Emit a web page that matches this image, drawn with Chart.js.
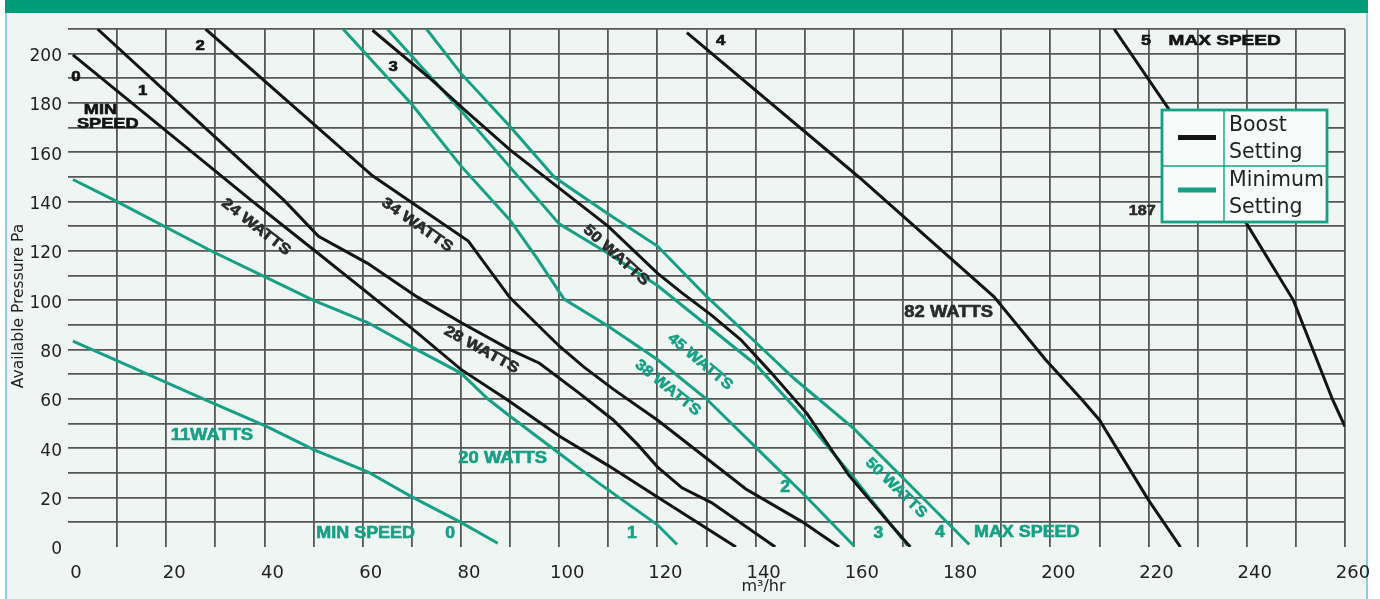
<!DOCTYPE html>
<html lang="en">
<head>
    <meta charset="UTF-8">
    <title>Fan Performance</title>
    <script src="https://cdn.jsdelivr.net/npm/chart.js"></script>
    <style>
        html, body { margin: 0; padding: 0; background: #ffffff; }
        .band { position: absolute; left: 5px; top: 0; width: 1363px; height: 13px; background: #009c78; }
        .frame { position: absolute; left: 5px; top: 13px; width: 1363px; height: 586px; background: #eef5f3;
                 border-left: 2px solid #86cfe4; border-right: 2px solid #86cfe4; box-sizing: border-box; }
        .wrap { position: absolute; left: 0; top: 0; width: 1380px; height: 599px; }
    </style>
</head>
<body>
    <div class="band"></div>
    <div class="frame"></div>
    <div class="wrap"><canvas id="fanChart" width="1380" height="599"></canvas></div>
    <script>
        // tick labels
        const flowTickLabels = [0, 20, 40, 60, 80, 100, 120, 140, 160, 180, 200, 220, 240, 260];
        const paTickLabels = [0, 20, 40, 60, 80, 100, 120, 140, 160, 180, 200];

        // boost setting curves (m3/hr -> Pa), speed 0..5
        const boostFlow0 = [1, 37, 50, 61, 71, 80, 89.5, 100, 110, 120, 136];
        const boostPa0   = [199.5, 141, 120.5, 103, 87, 72, 59.6, 45, 33, 20.3, 0];
        const boostFlow1 = [6, 44, 51, 61, 71, 80, 90, 96, 104, 111, 116, 120, 125, 131, 144];
        const boostPa1   = [210, 140.5, 126, 115, 101.5, 91, 80, 74.5, 62.5, 51.5, 41.5, 32.5, 24, 18, 0];
        const boostFlow2 = [28, 62, 81.5, 90, 100, 105, 111, 120, 130, 138, 149.5, 157];
        const boostPa2   = [210, 150.5, 124, 101, 81.5, 73, 64, 51.5, 36, 23.5, 10.2, 0];
        const boostFlow3 = [62, 74, 80, 90, 100, 110, 120, 125, 131, 137, 143, 150.5, 159, 167, 171.5];
        const boostPa3   = [209.5, 189.5, 178.5, 161, 145.5, 130, 111, 103, 94, 84, 71, 54, 29, 10.2, 0];
        const boostFlow4 = [126, 161, 188.5, 199, 206.5, 210, 220, 226.5];
        const boostPa4   = [208.5, 150, 101.5, 76, 59.6, 51.5, 19, 0];
        const boostFlow5 = [213, 224.3, 240, 249.5, 257.5, 260];
        const boostPa5   = [210, 177, 131, 100, 59.6, 48.8];

        // minimum setting curves
        const minFlow0 = [1, 28, 40.5, 50, 61, 70, 80, 87.5];
        const minPa0   = [83.5, 59.6, 48.8, 39.5, 30.5, 20.3, 10, 1.5];
        const minFlow1 = [1, 9, 29.5, 40, 50, 61, 71, 80, 85.5, 90, 100, 108, 120, 124];
        const minPa1   = [149, 141, 119.7, 109.6, 100, 91, 80, 70.5, 60, 53, 38, 26, 9, 1];
        const minFlow2 = [56, 70, 80, 90, 95.5, 101, 110, 120, 130, 140, 150, 160];
        const minPa2   = [210, 179.5, 154.5, 132.5, 117, 100.5, 89.5, 76, 60, 40.5, 21, 0.5];
        const minFlow3 = [65, 80, 90, 100, 110, 120, 130, 140, 150, 160, 171];
        const minPa3   = [210, 177, 154, 131, 119, 106, 90, 74, 52, 28, 0.5];
        const minFlow4 = [73, 80, 90, 99, 110, 120, 130, 140, 148, 160, 170, 183.5];
        const minPa4   = [210, 192, 170.5, 150, 135, 122, 101.6, 83, 68, 48, 28, 1];

        const BLACK = '#141414';
        const TEAL = '#17a084';

        function toPoints(xs, ys) {
            return xs.map((v, i) => ({ x: v, y: ys[i] }));
        }

        const boostCurves = [
            [boostFlow0, boostPa0], [boostFlow1, boostPa1], [boostFlow2, boostPa2],
            [boostFlow3, boostPa3], [boostFlow4, boostPa4], [boostFlow5, boostPa5]
        ];
        const minCurves = [
            [minFlow0, minPa0], [minFlow1, minPa1], [minFlow2, minPa2],
            [minFlow3, minPa3], [minFlow4, minPa4]
        ];

        const datasets = [];
        boostCurves.forEach((c, i) => datasets.push({
            label: 'Boost ' + i, data: toPoints(c[0], c[1]),
            showLine: true, borderColor: BLACK, borderWidth: 3, pointRadius: 0
        }));
        minCurves.forEach((c, i) => datasets.push({
            label: 'Minimum ' + i, data: toPoints(c[0], c[1]),
            showLine: true, borderColor: TEAL, borderWidth: 3, pointRadius: 0
        }));

        // text printed along the curves, placed in data units
        const notes = [
            { text: '0', flow: 1.6, pa: 190.3, angle: 0, size: 14, sx: 1.2, color: BLACK },
            { text: '1', flow: 15.2, pa: 185, angle: 0, size: 14, sx: 1.2, color: BLACK },
            { text: 'MIN', flow: 6.6, pa: 177.2, angle: 0, size: 14, sx: 1.3, color: BLACK },
            { text: 'SPEED', flow: 8.1, pa: 171.3, angle: 0, size: 14, sx: 1.3, color: BLACK },
            { text: '2', flow: 26.9, pa: 203.2, angle: 0, size: 14, sx: 1.2, color: BLACK },
            { text: '3', flow: 66.2, pa: 194.7, angle: 0, size: 14, sx: 1.2, color: BLACK },
            { text: '4', flow: 132.9, pa: 204.9, angle: 0, size: 14, sx: 1.2, color: BLACK },
            { text: '5', flow: 219.5, pa: 205.3, angle: 0, size: 15, sx: 1.2, color: BLACK },
            { text: 'MAX SPEED', flow: 235.5, pa: 205.3, angle: 0, size: 15, sx: 1.27, color: BLACK },
            { text: '24 WATTS', flow: 38.3, pa: 129.7, angle: 38, size: 15, sx: 1.15, color: '#2a2a2a' },
            { text: '34 WATTS', flow: 71.1, pa: 130.5, angle: 35, size: 15, sx: 1.15, color: '#2a2a2a' },
            { text: '28 WATTS', flow: 84.2, pa: 79.9, angle: 29, size: 15, sx: 1.15, color: '#2a2a2a' },
            { text: '50 WATTS', flow: 111.6, pa: 118.2, angle: 42, size: 15, sx: 1.15, color: '#2a2a2a' },
            { text: '82 WATTS', flow: 179.3, pa: 94.9, angle: 0, size: 16, sx: 1.15, color: '#2a2a2a' },
            { text: '187', flow: 218.7, pa: 136.2, angle: 0, size: 14, sx: 1.15, color: '#2a2a2a' },
            { text: '11WATTS', flow: 29.3, pa: 45, angle: 0, size: 16, sx: 1.15, color: TEAL },
            { text: 'MIN SPEED', flow: 60.6, pa: 5.6, angle: 0, size: 16, sx: 1.12, color: TEAL },
            { text: '0', flow: 77.8, pa: 5.5, angle: 0, size: 16, sx: 1.1, color: TEAL },
            { text: '20 WATTS', flow: 88.5, pa: 36, angle: 0, size: 16, sx: 1.15, color: TEAL },
            { text: '1', flow: 114.8, pa: 5.5, angle: 0, size: 16, sx: 1.1, color: TEAL },
            { text: '2', flow: 146, pa: 24.2, angle: 0, size: 16, sx: 1.1, color: TEAL },
            { text: '3', flow: 165, pa: 5.4, angle: 0, size: 16, sx: 1.1, color: TEAL },
            { text: '4', flow: 177.5, pa: 5.7, angle: 0, size: 16, sx: 1.1, color: TEAL },
            { text: 'MAX SPEED', flow: 195.2, pa: 5.7, angle: 0, size: 16, sx: 1.12, color: TEAL },
            { text: '38 WATTS', flow: 122.1, pa: 64.5, angle: 39, size: 15, sx: 1.1, color: TEAL },
            { text: '45 WATTS', flow: 128.7, pa: 75.1, angle: 40, size: 15, sx: 1.1, color: TEAL },
            { text: '50 WATTS', flow: 168.6, pa: 23.9, angle: 44, size: 15, sx: 1.1, color: TEAL }
        ];

        const notesPlugin = {
            id: 'curveNotes',
            afterDatasetsDraw(chart) {
                const ctx = chart.ctx;
                const xs = chart.scales.x, ys = chart.scales.y;

                notes.forEach(n => {
                    ctx.save();
                    ctx.translate(xs.getPixelForValue(n.flow), ys.getPixelForValue(n.pa));
                    ctx.rotate(n.angle * Math.PI / 180);
                    ctx.scale(n.sx, 1);
                    ctx.font = 'bold ' + n.size + 'px "Liberation Sans", Arial, sans-serif';
                    ctx.fillStyle = n.color;
                    ctx.strokeStyle = n.color;
                    ctx.lineWidth = 0.6;
                    ctx.textAlign = 'center';
                    ctx.textBaseline = 'middle';
                    ctx.fillText(n.text, 0, 0);
                    ctx.strokeText(n.text, 0, 0);
                    ctx.restore();
                });

                // axis titles
                ctx.save();
                ctx.fillStyle = '#222';
                ctx.font = '15.5px "DejaVu Sans", sans-serif';
                ctx.textAlign = 'center';
                ctx.textBaseline = 'middle';
                ctx.translate(18.5, 306);
                ctx.rotate(-Math.PI / 2);
                ctx.fillText('Available Pressure Pa', 0, 0);
                ctx.restore();

                ctx.save();
                ctx.fillStyle = '#222';
                ctx.font = '16px "DejaVu Sans", sans-serif';
                ctx.textAlign = 'center';
                ctx.textBaseline = 'middle';
                ctx.fillText('m\u00b3/hr', xs.getPixelForValue(141.6), 587);
                ctx.restore();

                // boxed legend
                const L = 1162, T = 110, R = 1327, B = 222, colX = 1224, rowY = 166;
                ctx.save();
                ctx.fillStyle = '#f7fbfa';
                ctx.fillRect(L, T, R - L, B - T);
                ctx.strokeStyle = TEAL;
                ctx.lineWidth = 1.4;
                ctx.beginPath();
                ctx.moveTo(colX, T); ctx.lineTo(colX, B);
                ctx.moveTo(L, rowY); ctx.lineTo(R, rowY);
                ctx.stroke();
                ctx.lineWidth = 2.8;
                ctx.strokeRect(L, T, R - L, B - T);
                ctx.lineWidth = 5;
                ctx.strokeStyle = BLACK;
                ctx.beginPath(); ctx.moveTo(1178, 137.5); ctx.lineTo(1216, 137.5); ctx.stroke();
                ctx.strokeStyle = TEAL;
                ctx.beginPath(); ctx.moveTo(1178, 190); ctx.lineTo(1216, 190); ctx.stroke();
                ctx.fillStyle = '#222';
                ctx.font = '20.5px "DejaVu Sans", sans-serif';
                ctx.textAlign = 'left';
                ctx.textBaseline = 'alphabetic';
                ctx.fillText('Boost', 1229, 131);
                ctx.fillText('Setting', 1229, 158);
                ctx.fillText('Minimum', 1229, 186);
                ctx.fillText('Setting', 1229, 213);
                ctx.restore();
            }
        };

        const gridColor = '#565656';

        new Chart(document.getElementById('fanChart'), {
            type: 'scatter',
            data: { datasets: datasets },
            options: {
                responsive: false,
                animation: false,
                layout: { padding: { top: 29, right: 35, bottom: 0, left: 0 } },
                plugins: { legend: { display: false }, tooltip: { enabled: false } },
                elements: { line: { tension: 0 } },
                scales: {
                    x: {
                        type: 'linear', min: 0, max: 260,
                        afterFit: s => { s.height = 52; },
                        border: { display: false },
                        grid: {
                            color: c => (c.tick && c.tick.value === 0) ? 'rgba(0,0,0,0)' : gridColor,
                            lineWidth: 1.8, drawTicks: false
                        },
                        ticks: {
                            stepSize: 10, autoSkip: false, maxRotation: 0, padding: 16, labelOffset: 8,
                            color: '#222', font: { family: 'DejaVu Sans', size: 18 },
                            callback: v => flowTickLabels.includes(v) ? String(v) : ''
                        }
                    },
                    y: {
                        min: 0, max: 210,
                        afterFit: s => { s.width = 68; },
                        border: { display: false },
                        grid: {
                            color: c => (c.tick && c.tick.value === 0) ? 'rgba(0,0,0,0)' : gridColor,
                            lineWidth: 1.8, drawTicks: false
                        },
                        ticks: {
                            stepSize: 10, autoSkip: false, padding: 6, labelOffset: 3,
                            color: '#222', font: { family: 'DejaVu Sans', size: 17 },
                            callback: v => paTickLabels.includes(v) ? String(v) : ''
                        }
                    }
                }
            },
            plugins: [notesPlugin]
        });
    </script>
</body>
</html>
